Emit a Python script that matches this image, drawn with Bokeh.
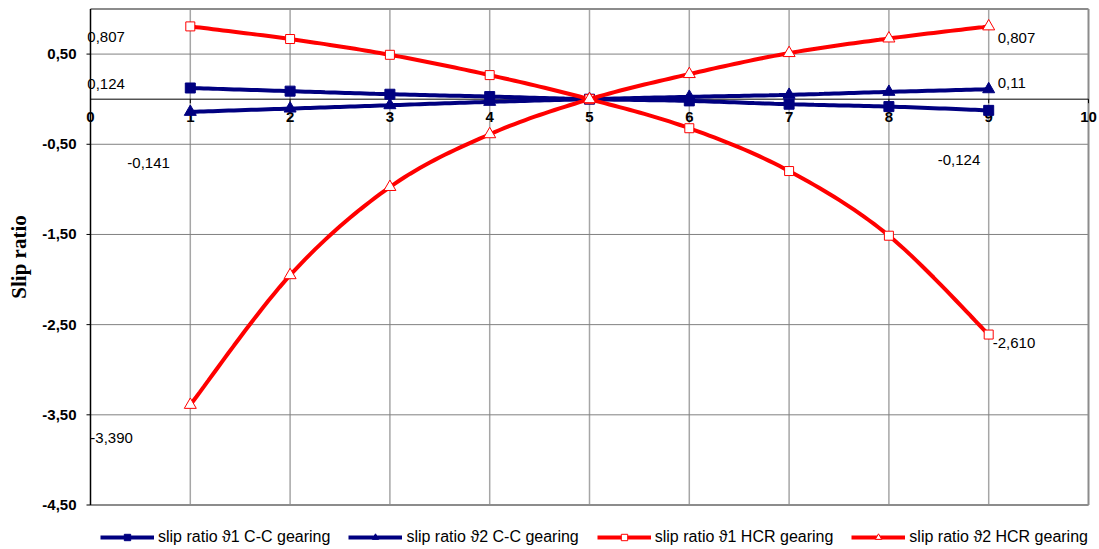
import math
from bokeh.plotting import figure
from bokeh.models import Range1d, Legend, LegendItem, ColumnDataSource
from bokeh.core.properties import value
from bokeh.embed import file_html
from bokeh.resources import INLINE

# ---------------- data ----------------
x_points = [1, 2, 3, 4, 5, 6, 7, 8, 9]
theta1_cc = [0.124, 0.089, 0.055, 0.029, 0.0, -0.019, -0.056, -0.082, -0.124]
theta2_cc = [-0.141, -0.104, -0.067, -0.030, 0.0, 0.026, 0.048, 0.081, 0.110]
theta1_hcr = [0.807, 0.667, 0.492, 0.267, 0.0, -0.322, -0.797, -1.514, -2.610]
theta2_hcr = [-3.390, -1.952, -0.974, -0.389, 0.0, 0.278, 0.511, 0.673, 0.807]

series_names = [
    "slip ratio \u03d11 C-C gearing",
    "slip ratio \u03d12 C-C gearing",
    "slip ratio \u03d11 HCR gearing",
    "slip ratio \u03d12 HCR gearing",
]

x_ticks = [0, 1, 2, 3, 4, 5, 6, 7, 8, 9, 10]
x_tick_labels = ["0", "1", "2", "3", "4", "5", "6", "7", "8", "9", "10"]
y_ticks = [0.5, -0.5, -1.5, -2.5, -3.5, -4.5]
y_tick_labels = ["0,50", "-0,50", "-1,50", "-2,50", "-3,50", "-4,50"]
y_axis_title = "Slip ratio"

# axis extents (value scale)
X_MIN, X_MAX = 0, 10
Y_MIN, Y_MAX = -4.5, 1.0

# data labels: (series, point index, text)
data_labels = [
    ("theta1_hcr", 0, "0,807"),
    ("theta1_cc", 0, "0,124"),
    ("theta2_cc", 0, "-0,141"),
    ("theta2_hcr", 0, "-3,390"),
    ("theta2_hcr", 8, "0,807"),
    ("theta2_cc", 8, "0,11"),
    ("theta1_cc", 8, "-0,124"),
    ("theta1_hcr", 8, "-2,610"),
]
series_lookup = {"theta1_cc": theta1_cc, "theta2_cc": theta2_cc,
                 "theta1_hcr": theta1_hcr, "theta2_hcr": theta2_hcr}

# ---------------- layout / style ----------------
W, H = 1099, 549
BOX_L, BOX_R, BOX_T, BOX_B = 90.0, 1088.0, 8.5, 504.5   # plot box in pixels
label_x_offsets = [-103, -103, -63, -100, 9, 9, -51, 4]
label_y_offsets = [11, -4, 51, 33, 12, -6, 50, 8]

sxu = (BOX_R - BOX_L) / (X_MAX - X_MIN)
syu = (BOX_B - BOX_T) / (Y_MAX - Y_MIN)
x_range = Range1d(X_MIN - BOX_L / sxu, X_MAX + (W - BOX_R) / sxu)
y_range = Range1d(Y_MIN - (H - BOX_B) / syu, Y_MAX + BOX_T / syu)


def smooth(xs, ys, n=20):
    pts = list(zip(xs, ys))
    out_x, out_y = [], []
    m = len(pts)
    for i in range(m - 1):
        p0 = pts[i - 1] if i > 0 else pts[i]
        p1 = pts[i]
        p2 = pts[i + 1]
        p3 = pts[i + 2] if i + 2 < m else pts[i + 1]
        for k in range(n):
            t = k / n
            t2, t3 = t * t, t * t * t
            vals = []
            for d in range(2):
                v = 0.5 * ((2 * p1[d]) + (-p0[d] + p2[d]) * t
                           + (2 * p0[d] - 5 * p1[d] + 4 * p2[d] - p3[d]) * t2
                           + (-p0[d] + 3 * p1[d] - 3 * p2[d] + p3[d]) * t3)
                vals.append(v)
            out_x.append(vals[0])
            out_y.append(vals[1])
    out_x.append(pts[-1][0])
    out_y.append(pts[-1][1])
    return out_x, out_y


NAVY = "#000080"
RED = "#ff0000"
FONT = value("Liberation Sans")

p = figure(width=W, height=H, output_backend="svg", toolbar_location=None,
           x_range=x_range, y_range=y_range,
           x_axis_location=None, y_axis_location=None, min_border=0)
p.outline_line_color = None
p.background_fill_color = "white"
p.xgrid.visible = False
p.ygrid.visible = False

# grid lines limited to the plot box
vgrid = x_ticks[1:-1]
p.segment(x0=vgrid, y0=[Y_MIN] * len(vgrid), x1=vgrid, y1=[Y_MAX] * len(vgrid),
          line_color="#a6a6a6", line_width=1.5)
p.segment(x0=[X_MIN] * len(y_ticks), y0=y_ticks, x1=[X_MAX] * len(y_ticks), y1=y_ticks,
          line_color="#808080", line_width=1)
# plot box border (top, bottom, right)
p.segment(x0=[X_MIN, X_MIN, X_MAX], y0=[Y_MAX, Y_MIN, Y_MIN],
          x1=[X_MAX, X_MAX, X_MAX], y1=[Y_MAX, Y_MIN, Y_MAX],
          line_color="#8c8c8c", line_width=2)

# y axis line, ticks, labels, title
p.segment(x0=[X_MIN], y0=[Y_MIN], x1=[X_MIN], y1=[Y_MAX], line_color="black", line_width=1.5)
p.ray(x=[X_MIN] * len(y_ticks), y=y_ticks, length=4, length_units="screen",
      angle=math.pi, line_color="black", line_width=1)
p.text(x=[X_MIN] * len(y_ticks), y=y_ticks, text=y_tick_labels,
       text_align="right", text_baseline="middle", x_offset=-14,
       text_font=FONT, text_font_style="bold", text_font_size="15px", text_color="black")
p.text(x=[X_MIN], y=[(Y_MIN + Y_MAX) / 2], text=[y_axis_title], angle=math.pi / 2,
       text_align="center", text_baseline="middle", x_offset=-72,
       text_font=value("Liberation Serif"), text_font_style="bold",
       text_font_size="21px", text_color="black")

# x axis line at y = 0, ticks, labels
p.segment(x0=[X_MIN], y0=[0], x1=[X_MAX], y1=[0], line_color="black", line_width=1)
p.ray(x=x_ticks, y=[0] * len(x_ticks), length=4, length_units="screen",
      angle=-math.pi / 2, line_color="black", line_width=1)
p.text(x=x_ticks, y=[0] * len(x_ticks), text=x_tick_labels,
       text_align="center", text_baseline="middle", y_offset=18,
       text_font=FONT, text_font_style="bold", text_font_size="15px", text_color="black")

# series
styles = [
    dict(data=theta1_cc, color=NAVY, marker="square", size=10, fill=NAVY),
    dict(data=theta2_cc, color=NAVY, marker="triangle", size=12, fill=NAVY),
    dict(data=theta1_hcr, color=RED, marker="square", size=9, fill="white"),
    dict(data=theta2_hcr, color=RED, marker="triangle", size=12, fill="white"),
]

items = []
for name, st in zip(series_names, styles):
    sx, sy = smooth(x_points, st["data"])
    lr = p.line(sx, sy, line_color=st["color"], line_width=4)
    sr = p.scatter(x_points, st["data"], marker=st["marker"], size=st["size"],
                   line_color=st["color"], fill_color=st["fill"], line_width=1)
    items.append(LegendItem(label=name, renderers=[lr, sr]))

# data labels
lab_src = ColumnDataSource(dict(
    x=[x_points[i] for (_, i, _) in data_labels],
    y=[series_lookup[s][i] for (s, i, _) in data_labels],
    text=[t for (_, _, t) in data_labels],
    xo=label_x_offsets,
    yo=label_y_offsets,
))
p.text(x="x", y="y", text="text", source=lab_src, x_offset="xo", y_offset="yo",
       text_align="left", text_baseline="middle",
       text_font=FONT, text_font_size="15px", text_color="black")

legend = Legend(items=items, orientation="horizontal", location=(98, 1),
                glyph_width=54, glyph_height=16, label_standoff=4, spacing=18,
                padding=2, margin=0, border_line_alpha=0, background_fill_alpha=0,
                label_text_font="Liberation Sans", label_text_font_size="16px",
                label_text_color="black", label_height=16)
p.add_layout(legend, "center")

open("out.html", "w").write(file_html(p, INLINE))
